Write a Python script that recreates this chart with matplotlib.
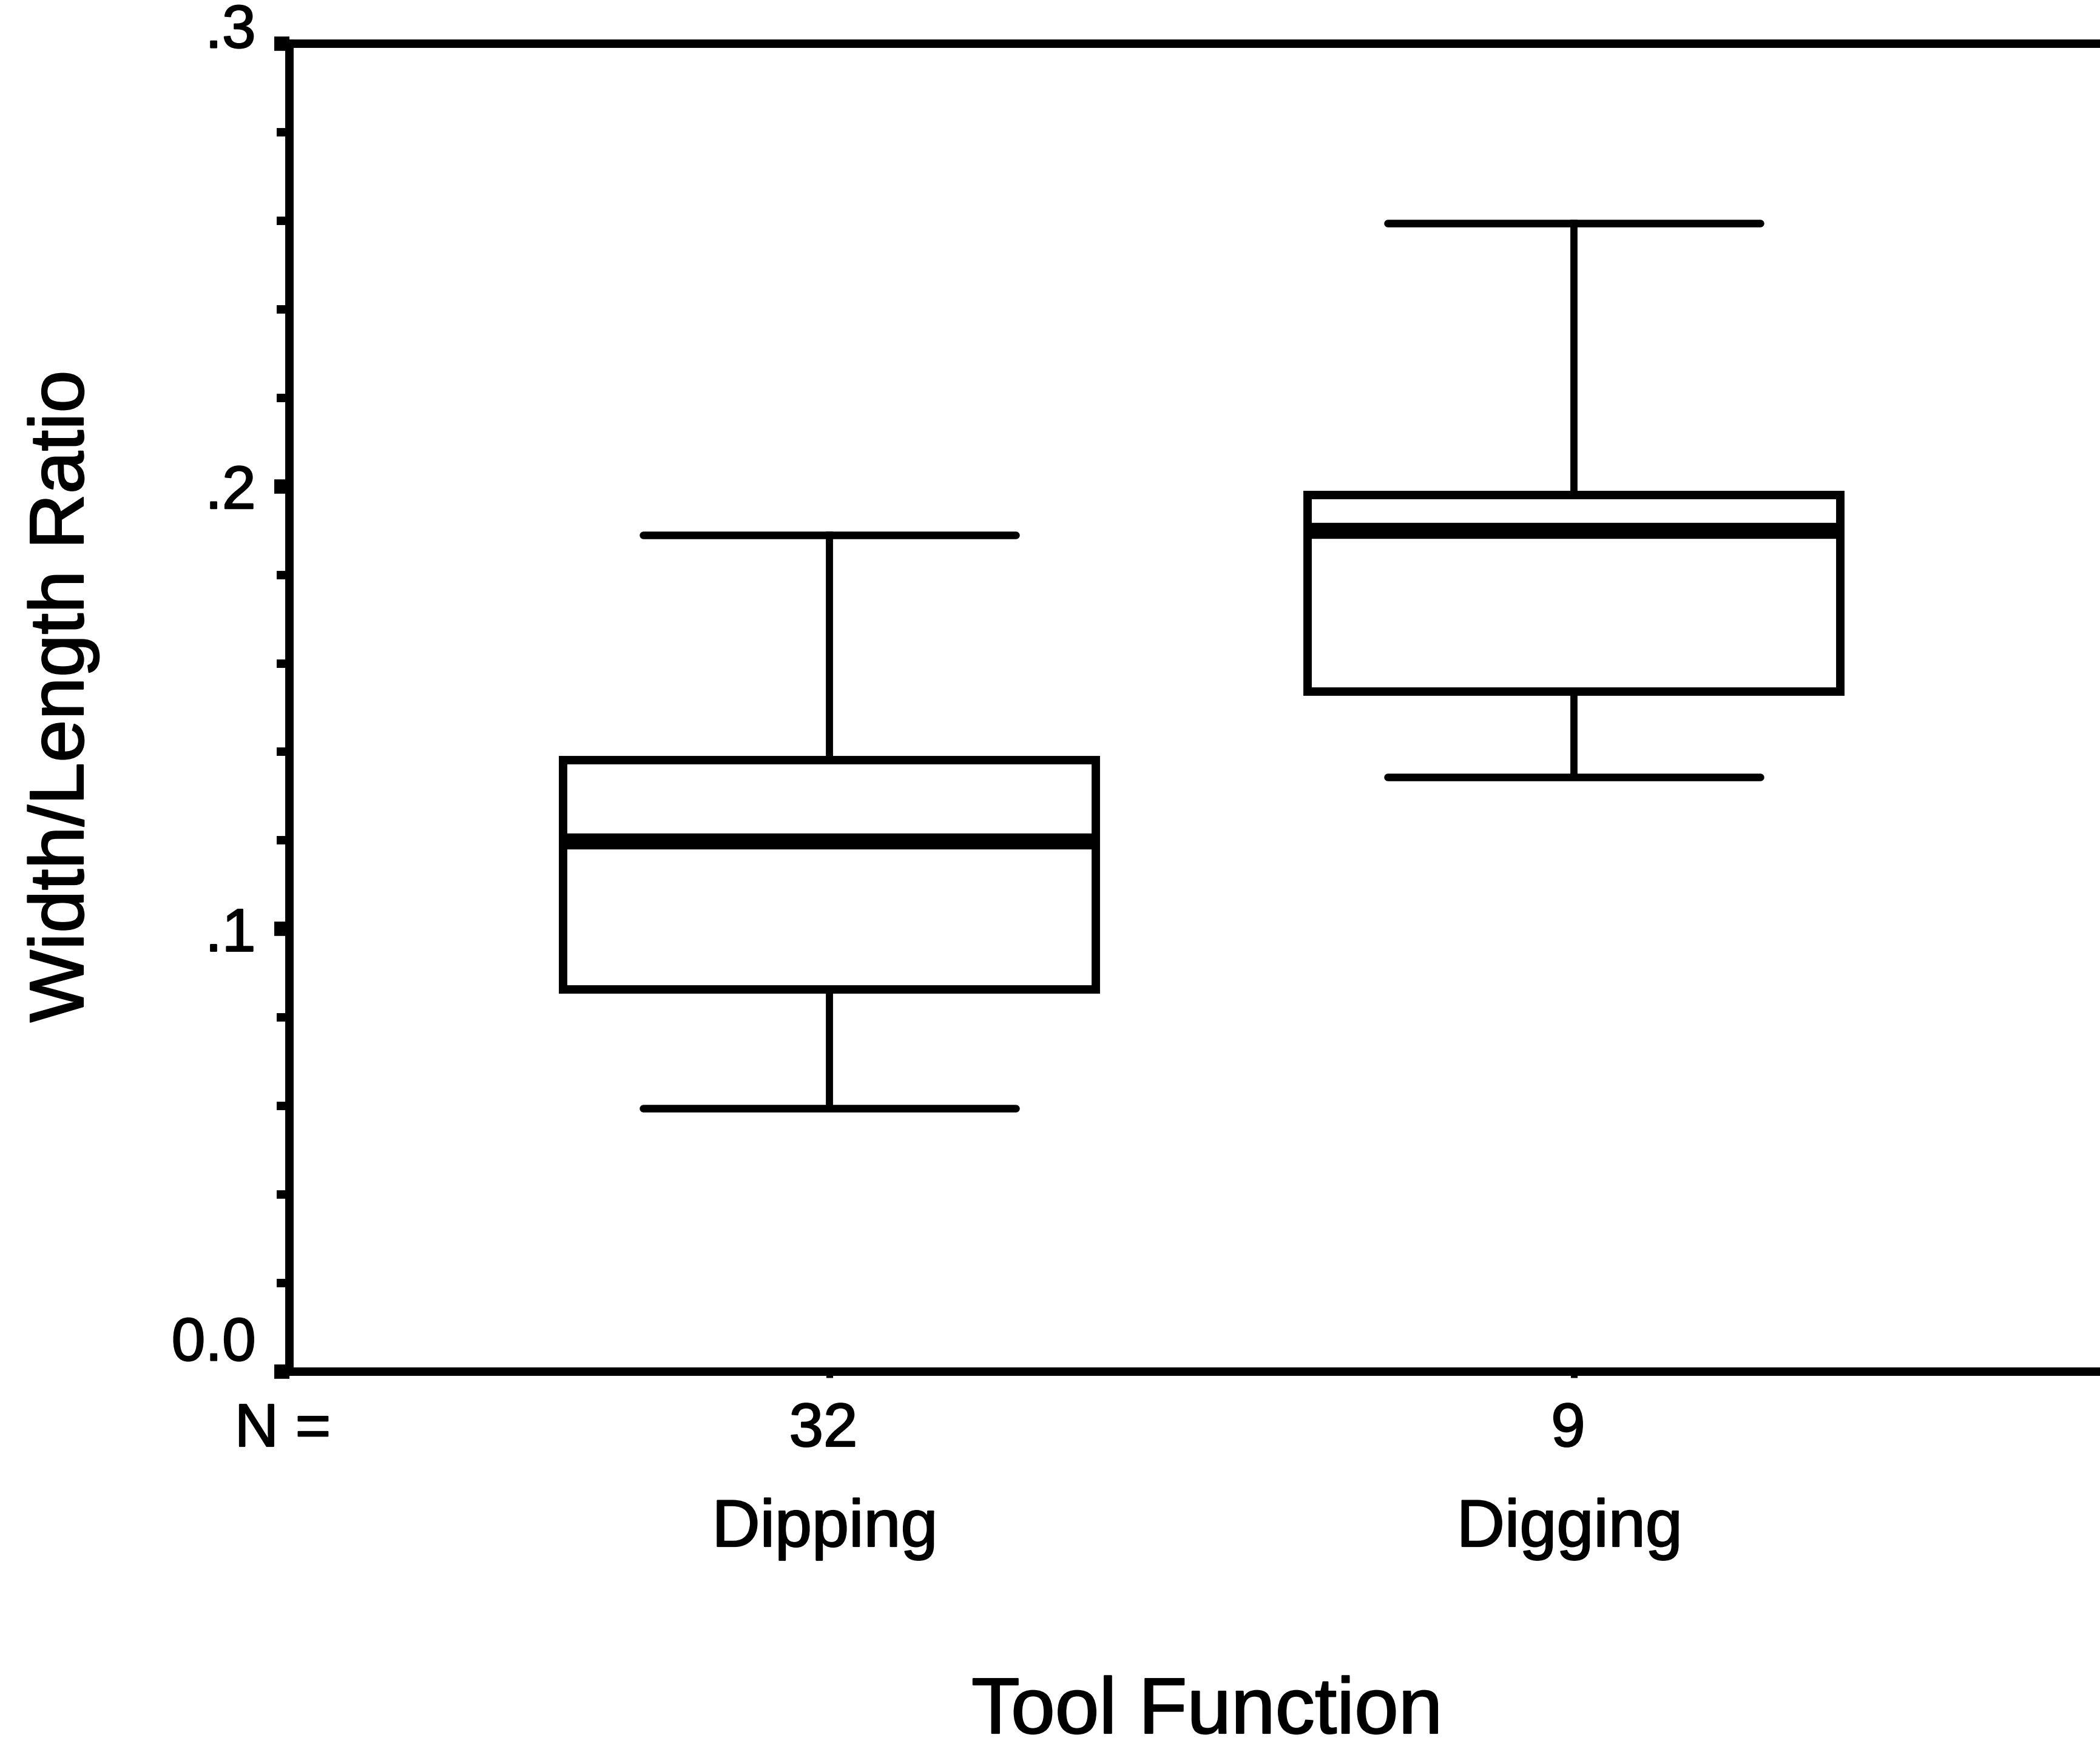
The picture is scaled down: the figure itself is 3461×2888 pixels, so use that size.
import matplotlib
matplotlib.use("Agg")
import matplotlib.pyplot as plt
from matplotlib.ticker import FixedLocator, MultipleLocator
import matplotlib.transforms as mtransforms
import matplotlib.patheffects as pe

plt.rcParams["font.family"] = ["Liberation Sans", "DejaVu Sans"]

# Summary statistics of the width/length ratio per tool function
categories = ["Dipping", "Digging"]
n_counts = [32, 9]
whisker_low = [0.0595, 0.1343]
q1 = [0.0863, 0.1536]
median = [0.1198, 0.1900]
q3 = [0.1381, 0.1981]
whisker_high = [0.1890, 0.2595]
y_ticks = [0.0, 0.1, 0.2, 0.3]
y_tick_labels = ["0.0", ".1", ".2", ".3"]

W, H, DPI = 3461, 2888, 100
fig = plt.figure(figsize=(W / DPI, H / DPI), dpi=DPI)
fig.patch.set_facecolor("white")

# slightly heavier text strokes
heavy = [pe.withStroke(linewidth=1.6, foreground="black")]

ax_left, ax_right = 477 / W, 3484 / W
ax_bottom, ax_top = 1 - 2261 / H, 1 - 72 / H
ax = fig.add_axes([ax_left, ax_bottom, ax_right - ax_left, ax_top - ax_bottom])

positions = list(range(1, len(categories) + 1))
stats = []
for i, name in enumerate(categories):
    stats.append(dict(label=name, whislo=whisker_low[i], q1=q1[i], med=median[i],
                      q3=q3[i], whishi=whisker_high[i], fliers=[]))

ax.bxp(stats, positions=positions, widths=0.715, capwidths=0.5,
       patch_artist=True, showfliers=False,
       boxprops=dict(facecolor="white", edgecolor="black", linewidth=10),
       medianprops=dict(color="black", linewidth=19, solid_capstyle="butt"),
       whiskerprops=dict(color="black", linewidth=8.5),
       capprops=dict(color="black", linewidth=9, solid_capstyle="round"))

ax.set_xlim(0.275, 2.725)
ax.set_ylim(0, 0.3)

for side in ["left", "bottom", "top", "right"]:
    ax.spines[side].set_linewidth(10)
    ax.spines[side].set_color("black")

# y axis: labelled ticks every .1, minor ticks every .02
ax.yaxis.set_major_locator(FixedLocator(y_ticks))
ax.set_yticklabels(y_tick_labels)
ax.yaxis.set_minor_locator(MultipleLocator(0.02))
ax.tick_params(axis="y", which="major", direction="out", length=18, width=17,
               pad=22, labelsize=72, color="black")
ax.tick_params(axis="y", which="minor", direction="out", length=15, width=10,
               color="black")

# x axis: small ticks at each group, labels drawn separately
ax.set_xticks(positions)
ax.set_xticklabels([])
ax.tick_params(axis="x", which="major", direction="out", length=7, width=8,
               color="black")

# nudge the end labels upward
for lbl, dy in zip(ax.get_yticklabels(), [55, 0, 0, 30]):
    lbl.set_path_effects(heavy)
    if dy:
        lbl.set_transform(lbl.get_transform() +
                          mtransforms.ScaledTranslation(0, dy / DPI, fig.dpi_scale_trans))

axis_h = 2261 - 72
tr = ax.get_xaxis_transform()
ax.text(0.266, -(2384 - 2261) / axis_h, "N =", transform=tr, ha="center",
        va="baseline", fontsize=72, path_effects=heavy)
for pos, n, name in zip(positions, n_counts, categories):
    ax.text(pos - 0.008, -(2384 - 2261) / axis_h, str(n), transform=tr,
            ha="center", va="baseline", fontsize=73, path_effects=heavy)
    ax.text(pos - 0.006, -(2549 - 2261) / axis_h, name, transform=tr,
            ha="center", va="baseline", fontsize=79, path_effects=heavy)

fig.text(1989 / W, 1 - 2857 / H, "Tool Function", ha="center", va="baseline",
         fontsize=94, path_effects=heavy)
fig.text(104 / W, 1 - 1148 / H, "Width/Length Ratio", ha="center", va="center",
         rotation=90, fontsize=91, path_effects=heavy)

fig.savefig("out.png", dpi=DPI, facecolor="white")
